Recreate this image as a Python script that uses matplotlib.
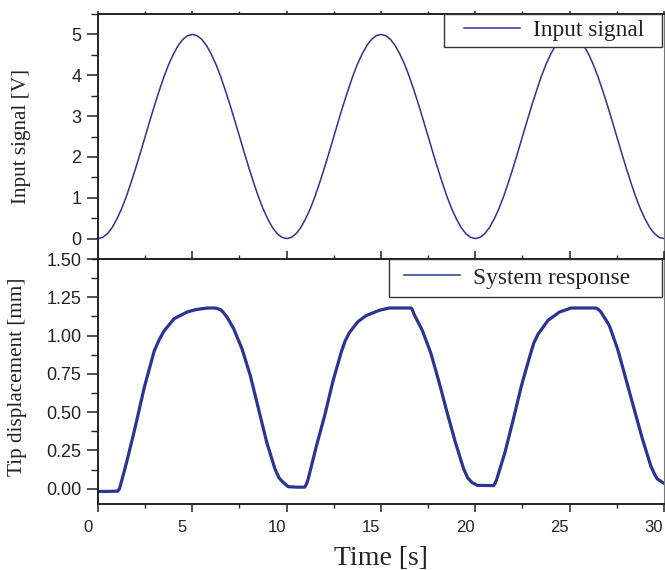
import numpy as np
import matplotlib
matplotlib.use('Agg')
import matplotlib.pyplot as plt
from matplotlib.ticker import MultipleLocator, FormatStrFormatter
from matplotlib.legend_handler import HandlerLine2D
from matplotlib.transforms import ScaledTranslation

# input signal, sampled every 0.25 s
input_time = np.arange(0, 30.001, 0.25)
input_period = [0.0, 0.03, 0.12, 0.27, 0.48, 0.73, 1.03, 1.37, 1.73, 2.11,
                2.5, 2.89, 3.27, 3.63, 3.97, 4.27, 4.52, 4.73, 4.88, 4.97,
                5.0, 4.97, 4.88, 4.73, 4.52, 4.27, 3.97, 3.63, 3.27, 2.89,
                2.5, 2.11, 1.73, 1.37, 1.03, 0.73, 0.48, 0.27, 0.12, 0.03]
input_volts = input_period * 3 + [0.0]

# tip displacement
resp_time = [0.0, 0.5, 1.04, 1.14, 1.49, 1.93, 2.45, 2.98, 3.25, 3.5, 4.03, 4.74, 5.2, 5.79,
             6.2, 6.49, 6.65, 6.84, 7.19, 7.63, 8.07, 8.51, 8.95, 9.38, 9.6, 9.82, 10.08,
             10.5, 10.96, 11.05, 11.14, 11.58, 12.02, 12.45, 12.89, 13.1, 13.33, 13.77,
             14.21, 14.91, 15.44, 16.6, 16.68, 16.75, 17.19, 17.63, 18.07, 18.5, 18.95,
             19.38, 19.6, 19.82, 20.1, 20.96, 21.05, 21.14, 21.58, 22.02, 22.45, 22.9,
             23.1, 23.33, 23.86, 24.47, 25.08, 26.4, 26.53, 26.66, 27.1, 27.54, 27.98,
             28.42, 28.86, 29.3, 29.5, 29.65, 30.0]
resp_mm = [-0.018, -0.018, -0.016, 0.0, 0.16, 0.38, 0.66, 0.90, 0.975, 1.03, 1.11, 1.155,
           1.17, 1.18, 1.18, 1.17, 1.15, 1.12, 1.045, 0.914, 0.74, 0.52, 0.30, 0.129,
           0.07, 0.041, 0.013, 0.01, 0.01, 0.03, 0.063, 0.28, 0.48, 0.70, 0.89, 0.965,
           1.02, 1.09, 1.13, 1.165, 1.18, 1.18, 1.165, 1.14, 1.034, 0.89, 0.70, 0.50,
           0.30, 0.13, 0.07, 0.041, 0.022, 0.02, 0.035, 0.063, 0.24, 0.456, 0.674, 0.87,
           0.95, 1.01, 1.10, 1.154, 1.18, 1.18, 1.17, 1.154, 1.067, 0.914, 0.718, 0.52,
           0.325, 0.15, 0.095, 0.063, 0.035]

line_color = '#2a3593'
serif = 'Liberation Serif'
sans = 'Liberation Sans'


class PaddedLine(HandlerLine2D):
    # leaves a gap before the legend line, like the original legend boxes
    def __init__(self, gap, **kw):
        super().__init__(**kw)
        self.gap = gap

    def get_xdata(self, legend, xdescent, ydescent, width, height, fontsize):
        xd, xm = super().get_xdata(legend, xdescent, ydescent, width, height, fontsize)
        xd = np.asarray(xd, dtype=float)
        xd[0] += self.gap * fontsize
        return xd, xm


fig = plt.figure(figsize=(6.65, 5.7), dpi=100)
ax1 = fig.add_axes([0.1474, 0.5456, 0.851, 0.4298])
ax2 = fig.add_axes([0.1474, 0.1158, 0.851, 0.4298], sharex=ax1)

l1, = ax1.plot(input_time, input_volts, color=line_color, lw=1.1, label='Input signal\u2002')
l2, = ax2.plot(resp_time, resp_mm, color=line_color, lw=2.3,
               label='System response\u2002\u2002', solid_joinstyle='round')

ax1.set_xlim(0, 30)
ax1.set_ylim(-0.5, 5.5)
ax2.set_ylim(-0.1, 1.5)

ax1.yaxis.set_major_locator(MultipleLocator(1))
ax1.yaxis.set_minor_locator(MultipleLocator(0.5))
ax2.yaxis.set_major_locator(MultipleLocator(0.25))
ax2.yaxis.set_minor_locator(MultipleLocator(0.125))
ax2.yaxis.set_major_formatter(FormatStrFormatter('%.2f'))
ax2.xaxis.set_major_locator(MultipleLocator(5))
ax2.xaxis.set_minor_locator(MultipleLocator(2.5))

for ax in (ax1, ax2):
    for s in ax.spines.values():
        s.set_linewidth(1.4)
        s.set_color('#222222')
    ax.spines['right'].set_linewidth(0.8)
    ax.spines['right'].set_color('#777777')
    ax.tick_params(axis='y', which='major', direction='out', length=8, width=1.1,
                   labelsize=13, colors='#222222', pad=4)
    ax.tick_params(axis='y', which='minor', direction='out', length=4.8, width=1.0,
                   colors='#222222')
    ax.tick_params(axis='x', which='major', direction='out', length=5.5, width=1.1,
                   labelsize=12, colors='#222222', pad=6, top=True)
    ax.tick_params(axis='x', which='minor', direction='out', length=3.1, width=1.0,
                   colors='#222222', top=True)
    for lab in ax.get_xticklabels() + ax.get_yticklabels():
        lab.set_fontfamily(sans)

ax1.tick_params(axis='x', which='both', labelbottom=False, length=2)

# x tick labels sit a little left of their ticks in the original
shift = ScaledTranslation(-10 / 100, 0, fig.dpi_scale_trans)
for lab in ax2.get_xticklabels():
    lab.set_transform(lab.get_transform() + shift)

ax1.set_ylabel('Input signal [V]', family=serif, fontsize=15.2, color='#222222')
ax2.set_ylabel('Tip displacement [mm]', family=serif, fontsize=15.2, color='#222222')
ax1.yaxis.set_label_coords(-0.118, 0.5)
ax2.yaxis.set_label_coords(-0.126, 0.52)
ax2.set_xlabel('Time [s]', family=serif, fontsize=20, color='#222222', labelpad=8)

for ax, line, pad, gap in ((ax1, l1, 0.25, 0.6), (ax2, l2, 0.35, 0.3)):
    leg = ax.legend(handles=[line], loc='upper right', bbox_to_anchor=(0.996, 1.0),
                    borderaxespad=0, prop={'family': serif, 'size': 16.8},
                    fancybox=False, framealpha=1, edgecolor='#333333', borderpad=pad,
                    handlelength=2.4 + gap, handletextpad=0.55,
                    handler_map={line: PaddedLine(gap)})
    leg.get_frame().set_linewidth(1.0)
    for h in leg.legend_handles:
        h.set_linewidth(1.1)
    for t in leg.get_texts():
        t.set_color('#222222')

fig.savefig('out.png', dpi=100)
